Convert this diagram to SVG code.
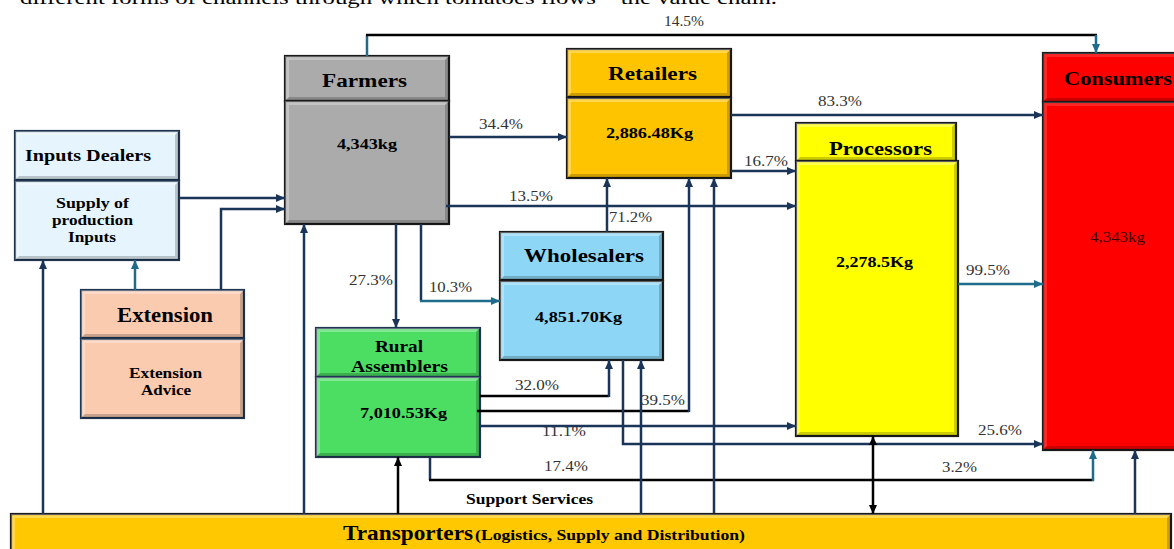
<svg xmlns="http://www.w3.org/2000/svg" width="1174" height="549" viewBox="0 0 1174 549">
<style>
.t{font-family:"Liberation Serif","Times New Roman",serif;font-weight:bold;fill:#000}
.p{font-family:"Liberation Serif","Times New Roman",serif;font-size:15px;fill:#333}
.hl{fill:#fff;fill-opacity:.3}
.sh{fill:#000;fill-opacity:.2}
.bx{stroke-width:2.2}
.nv{fill:none;stroke:#1B3558;stroke-width:2.5}
.tl{fill:none;stroke:#1F6B8C;stroke-width:2.5}
.bk{fill:none;stroke:#000;stroke-width:2.5}
</style>
<defs>
<marker id="an" markerUnits="userSpaceOnUse" markerWidth="9" markerHeight="8" refX="9" refY="4" orient="auto-start-reverse"><path d="M0,0L9,4L0,8z" fill="#1B3558"/></marker>
<marker id="at" markerUnits="userSpaceOnUse" markerWidth="9" markerHeight="8" refX="9" refY="4" orient="auto-start-reverse"><path d="M0,0L9,4L0,8z" fill="#1F6B8C"/></marker>
<marker id="ab" markerUnits="userSpaceOnUse" markerWidth="9" markerHeight="8" refX="9" refY="4" orient="auto-start-reverse"><path d="M0,0L9,4L0,8z" fill="#000"/></marker>
</defs>
<rect width="1174" height="549" fill="#fff"/>
<text x="20" y="4" font-family="Liberation Serif, serif" font-size="18" fill="#000" textLength="757" lengthAdjust="spacingAndGlyphs">different forms of channels through which tomatoes flows – the value chain.</text>

<g id="inputs-dealers">
<rect class="bx" x="15" y="131" width="164" height="49" fill="#E6F4FD" stroke="#1F3550"/>
<path class="hl" d="M15 131 H179 L175 135 H19 V176 L15 180Z"/><path class="sh" d="M179 131 V180 H15 L19 176 H175 V135Z"/>
<rect class="bx" x="15" y="181" width="164" height="79" fill="#E6F4FD" stroke="#1F3550"/>
<path class="hl" d="M15 181 H179 L175 185 H19 V256 L15 260Z"/><path class="sh" d="M179 181 V260 H15 L19 256 H175 V185Z"/>
<text class="t" x="25" y="161" font-size="16" textLength="126" lengthAdjust="spacingAndGlyphs">Inputs Dealers</text>
<text class="t" x="56" y="208" font-size="14" textLength="73" lengthAdjust="spacingAndGlyphs">Supply of</text>
<text class="t" x="52" y="225" font-size="14" textLength="81" lengthAdjust="spacingAndGlyphs">production</text>
<text class="t" x="68" y="242" font-size="14" textLength="48" lengthAdjust="spacingAndGlyphs">Inputs</text>
</g>

<g id="extension">
<rect class="bx" x="81" y="290" width="163" height="48" fill="#FBCBB0" stroke="#1F3550"/>
<path class="hl" d="M81 290 H244 L240 294 H85 V334 L81 338Z"/><path class="sh" d="M244 290 V338 H81 L85 334 H240 V294Z"/>
<rect class="bx" x="81" y="339" width="163" height="79" fill="#FBCBB0" stroke="#1F3550"/>
<path class="hl" d="M81 339 H244 L240 343 H85 V414 L81 418Z"/><path class="sh" d="M244 339 V418 H81 L85 414 H240 V343Z"/>
<text class="t" x="117" y="322" font-size="20" textLength="96" lengthAdjust="spacingAndGlyphs">Extension</text>
<text class="t" x="129" y="378" font-size="14" textLength="73" lengthAdjust="spacingAndGlyphs">Extension</text>
<text class="t" x="141" y="395" font-size="14" textLength="50" lengthAdjust="spacingAndGlyphs">Advice</text>
</g>

<g id="farmers">
<rect class="bx" x="285" y="56" width="164" height="45" fill="#ABABAB" stroke="#1a1a1a"/>
<path class="hl" d="M285 56 H449 L445 60 H289 V97 L285 101Z"/><path class="sh" d="M449 56 V101 H285 L289 97 H445 V60Z"/>
<rect class="bx" x="285" y="101" width="164" height="123" fill="#ABABAB" stroke="#1a1a1a"/>
<path class="hl" d="M285 101 H449 L445 105 H289 V220 L285 224Z"/><path class="sh" d="M449 101 V224 H285 L289 220 H445 V105Z"/>
<text class="t" x="322" y="87" font-size="18" textLength="85" lengthAdjust="spacingAndGlyphs">Farmers</text>
<text class="t" x="337" y="149" font-size="14" textLength="60" lengthAdjust="spacingAndGlyphs">4,343kg</text>
</g>

<g id="retailers">
<rect class="bx" x="567" y="49" width="164" height="48" fill="#FFC400" stroke="#1a1a1a"/>
<path class="hl" d="M567 49 H731 L727 53 H571 V93 L567 97Z"/><path class="sh" d="M731 49 V97 H567 L571 93 H727 V53Z"/>
<rect class="bx" x="567" y="98" width="164" height="80" fill="#FFC400" stroke="#1a1a1a"/>
<path class="hl" d="M567 98 H731 L727 102 H571 V174 L567 178Z"/><path class="sh" d="M731 98 V178 H567 L571 174 H727 V102Z"/>
<text class="t" x="608" y="80" font-size="18" textLength="89" lengthAdjust="spacingAndGlyphs">Retailers</text>
<text class="t" x="606" y="138" font-size="14" textLength="87" lengthAdjust="spacingAndGlyphs">2,886.48Kg</text>
</g>

<g id="wholesalers">
<rect class="bx" x="500" y="232" width="163" height="48" fill="#8ED6F6" stroke="#1a1a1a"/>
<path class="hl" d="M500 232 H663 L659 236 H504 V276 L500 280Z"/><path class="sh" d="M663 232 V280 H500 L504 276 H659 V236Z"/>
<rect class="bx" x="500" y="281" width="163" height="79" fill="#8ED6F6" stroke="#1a1a1a"/>
<path class="hl" d="M500 281 H663 L659 285 H504 V356 L500 360Z"/><path class="sh" d="M663 281 V360 H500 L504 356 H659 V285Z"/>
<text class="t" x="524" y="262" font-size="19" textLength="120" lengthAdjust="spacingAndGlyphs">Wholesalers</text>
<text class="t" x="535" y="322" font-size="14" textLength="87" lengthAdjust="spacingAndGlyphs">4,851.70Kg</text>
</g>

<g id="rural-assemblers">
<rect class="bx" x="316" y="328" width="164" height="49" fill="#4CDD63" stroke="#1F3550"/>
<path class="hl" d="M316 328 H480 L476 332 H320 V373 L316 377Z"/><path class="sh" d="M480 328 V377 H316 L320 373 H476 V332Z"/>
<rect class="bx" x="316" y="377" width="164" height="80" fill="#4CDD63" stroke="#1F3550"/>
<path class="hl" d="M316 377 H480 L476 381 H320 V453 L316 457Z"/><path class="sh" d="M480 377 V457 H316 L320 453 H476 V381Z"/>
<text class="t" x="375" y="352" font-size="17" textLength="48" lengthAdjust="spacingAndGlyphs">Rural</text>
<text class="t" x="351" y="372" font-size="17" textLength="97" lengthAdjust="spacingAndGlyphs">Assemblers</text>
<text class="t" x="360" y="418" font-size="14" textLength="87" lengthAdjust="spacingAndGlyphs">7,010.53Kg</text>
</g>

<g id="processors">
<rect class="bx" x="796" y="123" width="160" height="38" fill="#FFFF00" stroke="#1a1a1a"/>
<path class="hl" d="M796 123 H956 L952 127 H800 V157 L796 161Z"/><path class="sh" d="M956 123 V161 H796 L800 157 H952 V127Z"/>
<rect class="bx" x="796" y="161" width="162" height="275" fill="#FFFF00" stroke="#1a1a1a"/>
<path class="hl" d="M796 161 H958 L954 165 H800 V432 L796 436Z"/><path class="sh" d="M958 161 V436 H796 L800 432 H954 V165Z"/>
<text class="t" x="829" y="155" font-size="18" textLength="103" lengthAdjust="spacingAndGlyphs">Processors</text>
<text class="t" x="836" y="267" font-size="14" textLength="77" lengthAdjust="spacingAndGlyphs">2,278.5Kg</text>
</g>

<g id="consumers">
<rect class="bx" x="1043" y="53" width="200" height="49" fill="#FF0000" stroke="#1a1a1a"/>
<path class="hl" d="M1043 53 H1243 L1239 57 H1047 V98 L1043 102Z" style="fill-opacity:.15"/><path class="sh" d="M1243 53 V102 H1043 L1047 98 H1239 V57Z"/>
<rect class="bx" x="1043" y="102" width="200" height="348" fill="#FF0000" stroke="#1a1a1a"/>
<path class="hl" d="M1043 102 H1243 L1239 106 H1047 V446 L1043 450Z" style="fill-opacity:.15"/><path class="sh" d="M1243 102 V450 H1043 L1047 446 H1239 V106Z"/>
<text class="t" x="1064" y="85" font-size="18" textLength="108" lengthAdjust="spacingAndGlyphs">Consumers</text>
<text x="1090" y="242" font-family="Liberation Serif, serif" font-size="14" fill="#3a0000" textLength="55" lengthAdjust="spacingAndGlyphs">4,343kg</text>
</g>

<g id="transporters">
<rect class="bx" x="11" y="514" width="1160" height="40" fill="#FFC800" stroke="#1a1a1a"/>
<path class="hl" d="M11 514 H1171 L1167 518 H15 V550 L11 554Z"/><path class="sh" d="M1171 514 V554 H11 L15 550 H1167 V518Z"/>
<text class="t" x="343" y="540" font-size="20" textLength="130" lengthAdjust="spacingAndGlyphs">Transporters</text>
<text class="t" x="475" y="540" font-size="14" textLength="270" lengthAdjust="spacingAndGlyphs">(Logistics, Supply and Distribution)</text>
</g>

<g id="labels">
<text class="p" x="664" y="26" textLength="40" lengthAdjust="spacingAndGlyphs">14.5%</text>
<text class="p" x="479" y="129" textLength="44" lengthAdjust="spacingAndGlyphs">34.4%</text>
<text class="p" x="509" y="201" textLength="44" lengthAdjust="spacingAndGlyphs">13.5%</text>
<text class="p" x="818" y="106" textLength="44" lengthAdjust="spacingAndGlyphs">83.3%</text>
<text class="p" x="744" y="166" textLength="44" lengthAdjust="spacingAndGlyphs">16.7%</text>
<text class="p" x="609" y="222" textLength="43" lengthAdjust="spacingAndGlyphs">71.2%</text>
<text class="p" x="349" y="285" textLength="44" lengthAdjust="spacingAndGlyphs">27.3%</text>
<text class="p" x="429" y="292" textLength="43" lengthAdjust="spacingAndGlyphs">10.3%</text>
<text class="p" x="966" y="275" textLength="44" lengthAdjust="spacingAndGlyphs">99.5%</text>
<text class="p" x="515" y="390" textLength="44" lengthAdjust="spacingAndGlyphs">32.0%</text>
<text class="p" x="641" y="405" textLength="44" lengthAdjust="spacingAndGlyphs">39.5%</text>
<text class="p" x="542" y="436" textLength="44" lengthAdjust="spacingAndGlyphs">11.1%</text>
<text class="p" x="978" y="435" textLength="44" lengthAdjust="spacingAndGlyphs">25.6%</text>
<text class="p" x="544" y="471" textLength="44" lengthAdjust="spacingAndGlyphs">17.4%</text>
<text class="p" x="942" y="472" textLength="35" lengthAdjust="spacingAndGlyphs">3.2%</text>
<text class="t" x="466" y="504" font-size="14" textLength="127" lengthAdjust="spacingAndGlyphs">Support Services</text>
</g>

<g id="connectors">
<path class="tl" d="M367 56 V35"/>
<path class="bk" d="M366 35 H1097"/>
<path class="tl" d="M1096 35 V53" marker-end="url(#at)"/>
<path class="nv" d="M179 198 H285" marker-end="url(#an)"/>
<path class="nv" d="M221 290 V209 H285" marker-end="url(#an)"/>
<path class="tl" d="M135 290 V260" marker-end="url(#at)"/>
<path class="nv" d="M43 514 V260" marker-end="url(#an)"/>
<path class="nv" d="M304 514 V224" marker-end="url(#an)"/>
<path class="nv" d="M449 137 H567" marker-end="url(#an)"/>
<path class="nv" d="M446 206 H796" marker-end="url(#an)"/>
<path class="nv" d="M396 224 V328" marker-end="url(#an)"/>
<path class="nv" d="M421 224 V301"/>
<path class="tl" d="M420 301 H500" marker-end="url(#at)"/>
<path class="nv" d="M607 232 V178" marker-end="url(#an)"/>
<path class="nv" d="M731 171 H796" marker-end="url(#an)"/>
<path class="nv" d="M731 115 H1043" marker-end="url(#an)"/>
<path class="tl" d="M958 284 H1043" marker-end="url(#at)"/>
<path class="bk" d="M480 396 H609"/>
<path class="nv" d="M609 397 V360" marker-end="url(#an)"/>
<path class="bk" d="M477 411 H689"/>
<path class="nv" d="M689 412 V178" marker-end="url(#an)"/>
<path class="nv" d="M480 426 H796" marker-end="url(#an)"/>
<path class="nv" d="M623 360 V444 H1043" marker-end="url(#an)"/>
<path class="nv" d="M430 457 V480"/>
<path class="bk" d="M429 480 H1094"/>
<path class="tl" d="M1093 481 V450" marker-end="url(#at)"/>
<path class="nv" d="M641 514 V360" marker-end="url(#an)"/>
<path class="nv" d="M714 513 V178" marker-end="url(#an)"/>
<path class="bk" d="M873 514 V436" marker-start="url(#ab)" marker-end="url(#ab)"/>
<path class="bk" d="M398 514 V457" marker-end="url(#ab)"/>
<path class="nv" d="M1135 514 V450" marker-end="url(#an)"/>
</g>
</svg>
